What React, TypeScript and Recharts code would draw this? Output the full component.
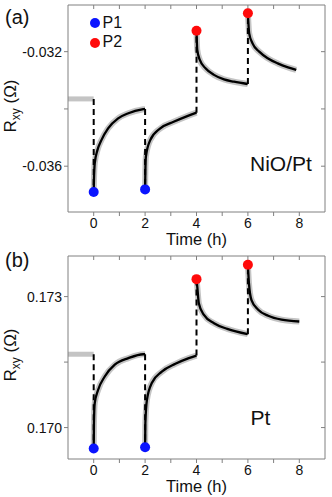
import React from 'react';
import { ComposedChart, Line, Scatter, XAxis, YAxis } from 'recharts';

const FONT = '"Liberation Sans", Arial, Helvetica, sans-serif';

// shared x axis
const xTicks = [0, 1, 2, 3, 4, 5, 6, 7, 8];
const xTickLabels = ['0', '', '2', '', '4', '', '6', '', '8'];

// ----- panel (a) NiO/Pt -----
const yTicksA = [-0.036, -0.034, -0.032];
const yTickLabelsA = ['-0.036', '', '-0.032'];
const flatA = [
  { t: -1, v: -0.03365 },
  { t: 0, v: -0.03365 },
];
const segA1 = [
  { t: 0, v: -0.0369 },
  { t: 0.01, v: -0.03649 },
  { t: 0.04, v: -0.0359 },
  { t: 0.145, v: -0.03544 },
  { t: 0.3, v: -0.03509 },
  { t: 0.56, v: -0.03468 },
  { t: 0.95, v: -0.03433 },
  { t: 1.35, v: -0.03415 },
  { t: 1.93, v: -0.03401 },
  { t: 2.0, v: -0.034 },
];
const segA2 = [
  { t: 2, v: -0.03681 },
  { t: 2.01, v: -0.0362 },
  { t: 2.03, v: -0.03567 },
  { t: 2.2, v: -0.03509 },
  { t: 2.59, v: -0.03468 },
  { t: 3.11, v: -0.03445 },
  { t: 3.64, v: -0.03425 },
  { t: 4.0, v: -0.03413 },
];
const segA3 = [
  { t: 4, v: -0.03127 },
  { t: 4.03, v: -0.03194 },
  { t: 4.13, v: -0.03229 },
  { t: 4.35, v: -0.03258 },
  { t: 4.68, v: -0.03281 },
  { t: 5.07, v: -0.03297 },
  { t: 5.46, v: -0.03305 },
  { t: 5.99, v: -0.03313 },
];
const segA4 = [
  { t: 6, v: -0.03066 },
  { t: 6.05, v: -0.03136 },
  { t: 6.18, v: -0.03171 },
  { t: 6.44, v: -0.032 },
  { t: 6.77, v: -0.03223 },
  { t: 7.16, v: -0.03241 },
  { t: 7.56, v: -0.03255 },
  { t: 7.88, v: -0.03264 },
];
const dashA0 = [{ t: 0, v: -0.03365 }, { t: 0, v: -0.0369 }];
const dashA2 = [{ t: 2, v: -0.034 }, { t: 2, v: -0.03681 }];
const dashA4 = [{ t: 4, v: -0.03413 }, { t: 4, v: -0.03127 }];
const dashA6 = [{ t: 6, v: -0.03313 }, { t: 6, v: -0.03066 }];
const p1A = [{ t: 0, v: -0.0369 }, { t: 2, v: -0.03681 }];
const p2A = [{ t: 4, v: -0.03127 }, { t: 6, v: -0.03066 }];

// ----- panel (b) Pt -----
const yTicksB = [0.17, 0.1715, 0.173];
const yTickLabelsB = ['0.170', '', '0.173'];
const flatB = [
  { t: -1, v: 0.17168 },
  { t: 0, v: 0.17168 },
];
const segB1 = [
  { t: 0, v: 0.16952 },
  { t: 0.01, v: 0.1701 },
  { t: 0.04, v: 0.17056 },
  { t: 0.17, v: 0.17086 },
  { t: 0.43, v: 0.17117 },
  { t: 0.82, v: 0.17144 },
  { t: 1.35, v: 0.17159 },
  { t: 1.93, v: 0.17168 },
  { t: 2.0, v: 0.17168 },
];
const segB2 = [
  { t: 2, v: 0.16955 },
  { t: 2.01, v: 0.1701 },
  { t: 2.07, v: 0.17063 },
  { t: 2.26, v: 0.17102 },
  { t: 2.65, v: 0.17128 },
  { t: 3.18, v: 0.17146 },
  { t: 3.7, v: 0.17159 },
  { t: 4.0, v: 0.17165 },
];
const segB3 = [
  { t: 4, v: 0.1734 },
  { t: 4.03, v: 0.17323 },
  { t: 4.09, v: 0.17285 },
  { t: 4.29, v: 0.17258 },
  { t: 4.68, v: 0.17239 },
  { t: 5.2, v: 0.17226 },
  { t: 5.99, v: 0.17214 },
];
const segB4 = [
  { t: 6, v: 0.17373 },
  { t: 6.04, v: 0.17331 },
  { t: 6.14, v: 0.17292 },
  { t: 6.4, v: 0.1727 },
  { t: 6.79, v: 0.17256 },
  { t: 7.31, v: 0.17247 },
  { t: 8.0, v: 0.17243 },
];
const dashB0 = [{ t: 0, v: 0.17168 }, { t: 0, v: 0.16952 }];
const dashB2 = [{ t: 2, v: 0.17168 }, { t: 2, v: 0.16955 }];
const dashB4 = [{ t: 4, v: 0.17165 }, { t: 4, v: 0.1734 }];
const dashB6 = [{ t: 6, v: 0.17214 }, { t: 6, v: 0.17373 }];
const p1B = [{ t: 0, v: 0.16952 }, { t: 2, v: 0.16955 }];
const p2B = [{ t: 4, v: 0.1734 }, { t: 6, v: 0.17373 }];

const FRAME = '#808080';
const GRAY = '#c4c4c4';
const BLUE = '#0a14ff';
const RED = '#ff0a0a';

type Pt = { t: number; v: number };

function dotShape(color: string) {
  return (props: any) => <circle cx={props.cx} cy={props.cy} r={5} fill={color} />;
}

function Panel(props: {
  height: number;
  top: number;
  domain: [number, number];
  yTicks: number[];
  yTickLabels: string[];
  flat: Pt[];
  segs: Pt[][];
  dashes: Pt[][];
  p1: Pt[];
  p2: Pt[];
  labelY: number;
}) {
  const { height, top, domain, yTicks, yTickLabels, flat, segs, dashes, p1, p2, labelY } = props;
  const yLabel = () => (
    <text
      transform={`translate(16,${labelY}) rotate(-90)`}
      textAnchor="middle"
      fontSize={17}
      fontFamily={FONT}
      fill="#111"
    >
      R
      <tspan dy={4} fontSize={12}>xy</tspan>
      <tspan dy={-4}> (Ω)</tspan>
    </text>
  );
  return (
    <ComposedChart width={332} height={height} margin={{ top, right: 7, bottom: 0, left: 0 }}>
      <XAxis
        xAxisId="b"
        type="number"
        dataKey="t"
        domain={[-1, 9]}
        allowDataOverflow
        ticks={xTicks}
        interval={0}
        tickFormatter={(_v: number, i: number) => xTickLabels[i]}
        height={38}
        tickSize={4}
        tickMargin={2}
        axisLine={{ stroke: FRAME }}
        tickLine={{ stroke: FRAME }}
        tick={{ fill: '#111', fontSize: 14, fontFamily: FONT }}
        label={{ value: 'Time (h)', position: 'insideBottom', offset: 5, fontSize: 16.5, fill: '#111', fontFamily: FONT }}
      />
      <XAxis
        xAxisId="t"
        orientation="top"
        mirror
        type="number"
        dataKey="t"
        domain={[-1, 9]}
        allowDataOverflow
        ticks={xTicks}
        interval={0}
        tickFormatter={() => ''}
        tickSize={4}
        axisLine={{ stroke: FRAME }}
        tickLine={{ stroke: FRAME }}
      />
      <YAxis
        yAxisId="l"
        type="number"
        dataKey="v"
        domain={domain}
        allowDataOverflow
        ticks={yTicks}
        interval={0}
        tickFormatter={(_v: number, i: number) => yTickLabels[i]}
        width={68}
        tickSize={4}
        tickMargin={2}
        axisLine={{ stroke: FRAME }}
        tickLine={{ stroke: FRAME }}
        tick={{ fill: '#111', fontSize: 14, fontFamily: FONT }}
        label={yLabel}
      />
      <YAxis
        yAxisId="r"
        orientation="right"
        mirror
        type="number"
        dataKey="v"
        domain={domain}
        allowDataOverflow
        ticks={yTicks}
        interval={0}
        tickFormatter={() => ''}
        tickSize={4}
        axisLine={{ stroke: FRAME }}
        tickLine={{ stroke: FRAME }}
      />
      <Line
        xAxisId="b"
        yAxisId="l"
        data={flat}
        dataKey="v"
        type="linear"
        stroke={GRAY}
        strokeWidth={5}
        dot={false}
        activeDot={false}
        legendType="none"
        isAnimationActive={false}
      />
      {segs.map((s, i) => (
        <Line
          key={'g' + i}
          xAxisId="b"
          yAxisId="l"
          data={s}
          dataKey="v"
          type="monotone"
          stroke={GRAY}
          strokeWidth={6}
          dot={false}
          activeDot={false}
          legendType="none"
          isAnimationActive={false}
        />
      ))}
      {dashes.map((s, i) => (
        <Line
          key={'d' + i}
          xAxisId="b"
          yAxisId="l"
          data={s}
          dataKey="v"
          type="linear"
          stroke="#000"
          strokeWidth={2}
          strokeDasharray="6 4"
          dot={false}
          activeDot={false}
          legendType="none"
          isAnimationActive={false}
        />
      ))}
      {segs.map((s, i) => (
        <Line
          key={'k' + i}
          xAxisId="b"
          yAxisId="l"
          data={s}
          dataKey="v"
          type="monotone"
          stroke="#000"
          strokeWidth={2.3}
          dot={false}
          activeDot={false}
          legendType="none"
          isAnimationActive={false}
        />
      ))}
      <Scatter xAxisId="b" yAxisId="l" name="P1" data={p1} dataKey="v" fill={BLUE} shape={dotShape(BLUE)} isAnimationActive={false} />
      <Scatter xAxisId="b" yAxisId="l" name="P2" data={p2} dataKey="v" fill={RED} shape={dotShape(RED)} isAnimationActive={false} />
    </ComposedChart>
  );
}

const abs = (left: number, top: number, fontSize: number): React.CSSProperties => ({
  position: 'absolute',
  left,
  top,
  fontSize,
  lineHeight: `${fontSize}px`,
  fontFamily: FONT,
  color: '#111',
  whiteSpace: 'nowrap',
});

const dot = (cx: number, cy: number, color: string): React.CSSProperties => ({
  position: 'absolute',
  left: cx - 5,
  top: cy - 5,
  width: 10,
  height: 10,
  borderRadius: '50%',
  background: color,
});

export default function App() {
  return (
    <div style={{ position: 'absolute', left: 0, top: 0, width: 332, height: 497, background: '#fff', fontFamily: FONT }}>
      <div style={{ position: 'absolute', left: 0, top: 0, width: 332, height: 250 }}>
        <Panel
          height={250}
          top={5}
          domain={[-0.0376, -0.03037]}
          yTicks={yTicksA}
          yTickLabels={yTickLabelsA}
          flat={flatA}
          segs={[segA1, segA2, segA3, segA4]}
          dashes={[dashA0, dashA2, dashA4, dashA6]}
          p1={p1A}
          p2={p2A}
          labelY={106}
        />
        <div style={abs(5, 7, 20)}>(a)</div>
        <div style={dot(94.5, 23.3, BLUE)} />
        <div style={abs(102.5, 14.8, 16)}>P1</div>
        <div style={dot(94.5, 42.5, RED)} />
        <div style={abs(102.5, 34, 16)}>P2</div>
        <div style={abs(250, 153.3, 21)}>NiO/Pt</div>
      </div>
      <div style={{ position: 'absolute', left: 0, top: 250, width: 332, height: 247 }}>
        <Panel
          height={247}
          top={6}
          domain={[0.16928, 0.17393]}
          yTicks={yTicksB}
          yTickLabels={yTickLabelsB}
          flat={flatB}
          segs={[segB1, segB2, segB3, segB4]}
          dashes={[dashB0, dashB2, dashB4, dashB6]}
          p1={p1B}
          p2={p2B}
          labelY={105}
        />
        <div style={abs(5, -0.5, 20)}>(b)</div>
        <div style={abs(250.5, 157.2, 21)}>Pt</div>
      </div>
    </div>
  );
}
